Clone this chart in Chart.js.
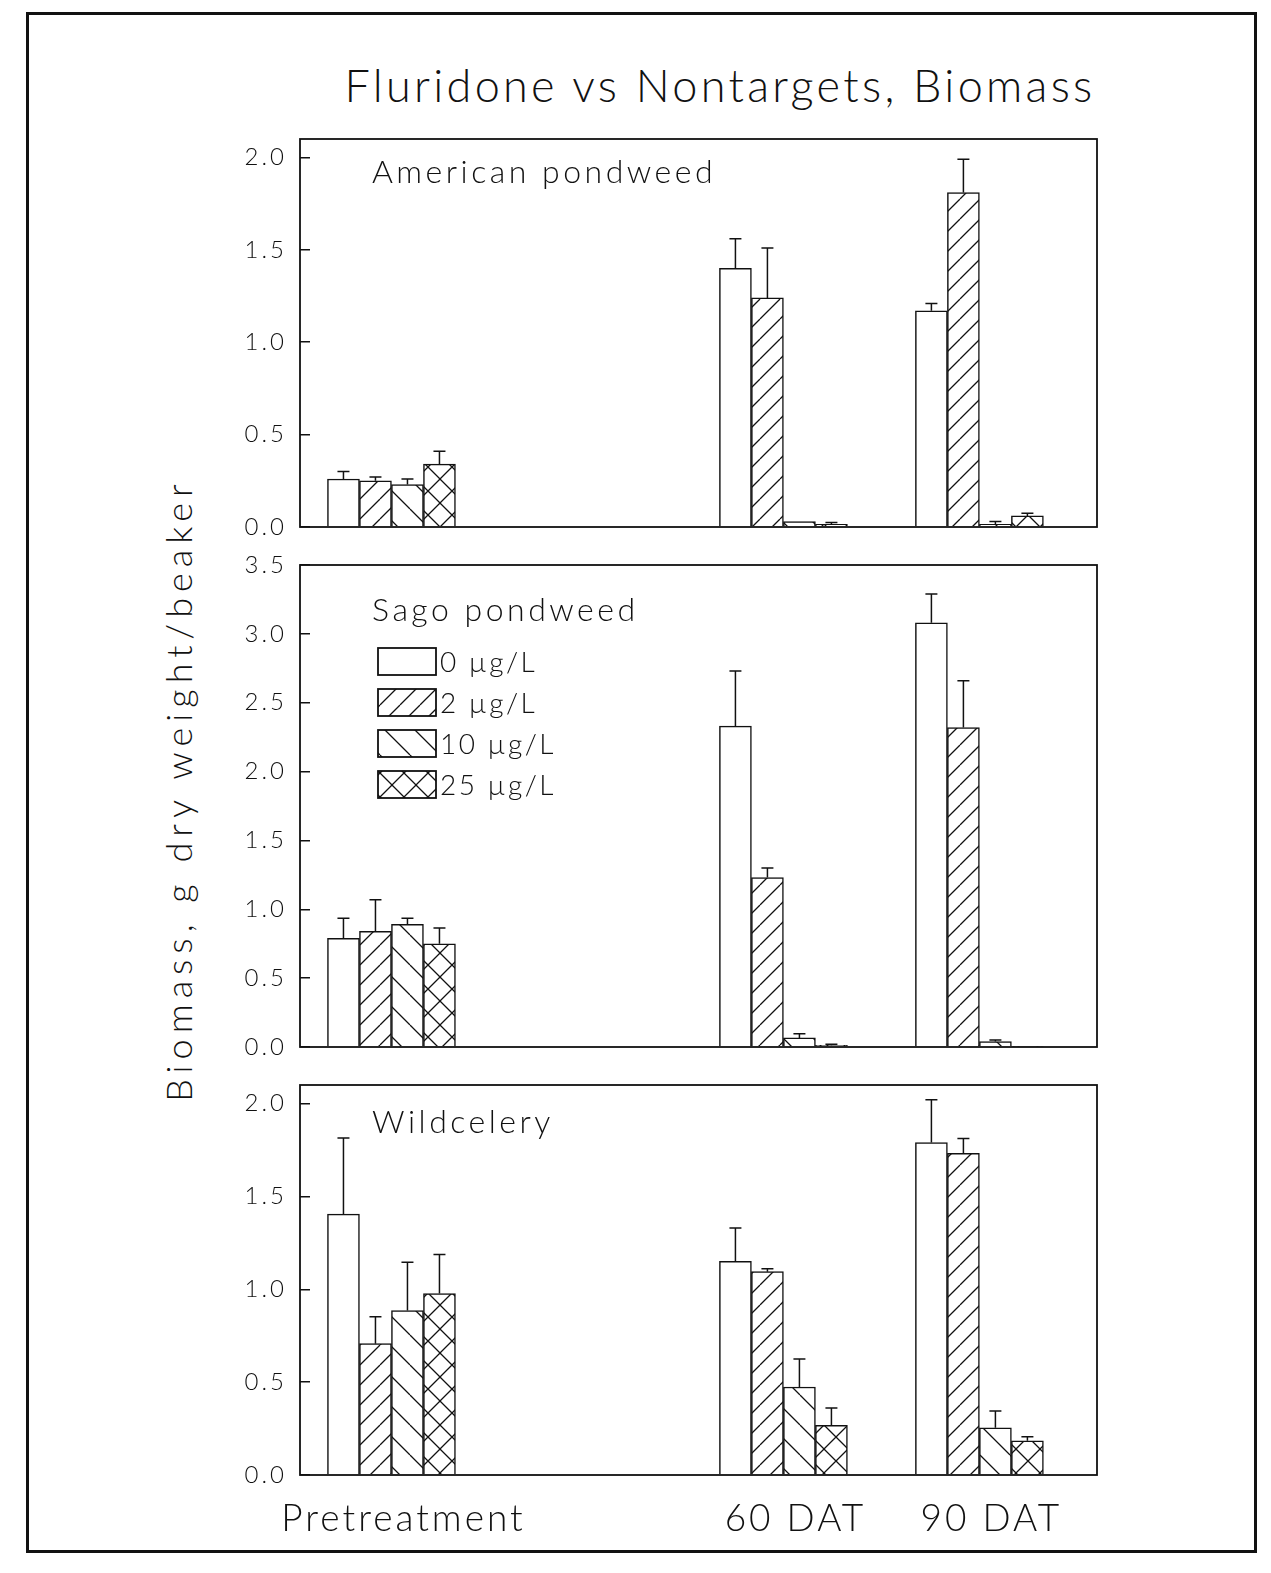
<!DOCTYPE html>
<html>
<head>
<meta charset="utf-8">
<script src="https://cdn.jsdelivr.net/npm/chart.js@4.4.1/dist/chart.umd.min.js"></script>
<style>
  html, body { margin: 0; padding: 0; background: #fff; }
  body { width: 1271px; height: 1573px; position: relative; overflow: hidden;
         font-family: Lato, 'DejaVu Sans', sans-serif; font-weight: 300; color: #111; }
  #frame { position: absolute; left: 26px; top: 12px; width: 1225px; height: 1535px; border: 3px solid #111; }
  #title { position: absolute; left: 320px; width: 800px; top: 58px; text-align: center;
           font-size: 45px; letter-spacing: 3.3px; white-space: nowrap; }
  #ytitle { position: absolute; left: 178px; top: 790px; font-size: 36px; letter-spacing: 6px;
            white-space: nowrap; transform: translate(-50%, -50%) rotate(-90deg); }
  canvas { position: absolute; left: 200px; }
</style>
</head>
<body>
<div id="frame"></div>
<div id="title">Fluridone vs Nontargets, Biomass</div>
<div id="ytitle">Biomass, g dry weight/beaker</div>
<canvas id="american" width="910" height="428" style="top:119px;width:910px;height:428px"></canvas>
<canvas id="sago" width="910" height="522" style="top:545px;width:910px;height:522px"></canvas>
<canvas id="wildcelery" width="910" height="480" style="top:1065px;width:910px;height:480px"></canvas>
<script>
// sampling times (days after treatment) and their labels
const days = [0, 60, 90];
const periodLabels = ['Pretreatment', '60 DAT', '90 DAT'];
const doseLabels = ['0 µg/L', '2 µg/L', '10 µg/L', '25 µg/L'];

// rows = dose (0, 2, 10, 25 ug/L), columns = Pretreatment, 60 DAT, 90 DAT
const americanMean = [
  [0.26, 1.40, 1.17],
  [0.25, 1.24, 1.81],
  [0.23, 0.03, 0.015],
  [0.34, 0.015, 0.06]
];
const americanErr = [
  [0.04, 0.16, 0.04],
  [0.02, 0.27, 0.18],
  [0.03, 0, 0.015],
  [0.07, 0.01, 0.015]
];
const sagoMean = [
  [0.79, 2.33, 3.08],
  [0.84, 1.23, 2.32],
  [0.89, 0.066, 0.04],
  [0.75, 0.012, 0.005]
];
const sagoErr = [
  [0.145, 0.40, 0.21],
  [0.23, 0.07, 0.34],
  [0.045, 0.03, 0.01],
  [0.115, 0.008, 0]
];
const celeryMean = [
  [1.405, 1.15, 1.79],
  [0.707, 1.095, 1.732],
  [0.886, 0.474, 0.254],
  [0.977, 0.268, 0.184]
];
const celeryErr = [
  [0.41, 0.18, 0.23],
  [0.145, 0.016, 0.08],
  [0.26, 0.15, 0.09],
  [0.21, 0.093, 0.022]
];

const ticks21 = [0, 0.5, 1.0, 1.5, 2.0];
const ticks35 = [0, 0.5, 1.0, 1.5, 2.0, 2.5, 3.0, 3.5];

const ink = '#111';
const FONT = 'Lato, "DejaVu Sans", sans-serif';

function hatch(size, dirs) {
  const c = document.createElement('canvas');
  c.width = c.height = size;
  const g = c.getContext('2d');
  g.fillStyle = '#fff';
  g.fillRect(0, 0, size, size);
  g.strokeStyle = ink;
  g.lineWidth = 1.3;
  g.beginPath();
  for (let k = -1; k <= 1; k++) {
    if (dirs.includes('/')) { g.moveTo(k * size, size); g.lineTo(k * size + size, 0); }
    if (dirs.includes('\\')) { g.moveTo(k * size, 0); g.lineTo(k * size + size, size); }
  }
  g.stroke();
  return g.createPattern(c, 'repeat');
}

const fills = ['#fff', hatch(20, '/'), hatch(30, '\\'), hatch(24, '/\\')];

const decor = {
  id: 'decor',
  beforeDraw(chart) { chart.ctx.letterSpacing = '3px'; },
  afterDatasetsDraw(chart, args, opts) {
    const { ctx, chartArea: a, scales: { y } } = chart;
    ctx.save();
    ctx.strokeStyle = ink;
    ctx.lineWidth = 1.5;
    // error bars (upper only)
    chart.data.datasets.forEach((ds, i) => {
      chart.getDatasetMeta(i).data.forEach((bar, j) => {
        const e = ds.errors[j];
        if (!e) return;
        const top = y.getPixelForValue(ds.data[j].y + e);
        ctx.beginPath();
        ctx.moveTo(bar.x, bar.y);
        ctx.lineTo(bar.x, top);
        ctx.moveTo(bar.x - 6, top);
        ctx.lineTo(bar.x + 6, top);
        ctx.stroke();
      });
    });
    // frame
    ctx.lineWidth = 1.8;
    ctx.strokeRect(a.left, a.top, a.right - a.left, a.bottom - a.top);
    // panel name
    ctx.fillStyle = ink;
    ctx.letterSpacing = '3.5px';
    ctx.font = '300 32px ' + FONT;
    ctx.textBaseline = 'alphabetic';
    ctx.fillText(opts.text, a.left + 72, a.top + opts.dy);
    // legend
    if (opts.legend) {
      ctx.letterSpacing = '2.5px';
      ctx.font = '300 28px ' + FONT;
      ctx.textBaseline = 'middle';
      chart.data.datasets.forEach((ds, i) => {
        const bx = a.left + 78, by = a.top + 83 + i * 41;
        ctx.fillStyle = ds.backgroundColor;
        ctx.fillRect(bx, by, 58, 27);
        ctx.strokeRect(bx, by, 58, 27);
        ctx.fillStyle = ink;
        ctx.fillText(ds.label, bx + 62, by + 15);
      });
    }
    ctx.restore();
  }
};

function panel(id, means, errs, yMax, yTicks, label, dy, showX, legend, pad) {
  return new Chart(document.getElementById(id), {
    type: 'bar',
    data: {
      datasets: doseLabels.map((lab, i) => ({
        label: lab,
        data: days.map((d, j) => ({ x: d, y: means[i][j] })),
        errors: errs[i],
        backgroundColor: fills[i],
        borderColor: ink,
        borderWidth: 1.5,
        barThickness: 32
      }))
    },
    options: {
      responsive: false,
      animation: false,
      layout: { padding: pad },
      plugins: {
        legend: { display: false },
        tooltip: { enabled: false },
        decor: { text: label, dy: dy, legend: legend }
      },
      scales: {
        x: {
          type: 'linear',
          offset: false,
          min: -14,
          max: 108,
          display: showX,
          afterBuildTicks: (axis) => { axis.ticks = days.map(v => ({ value: v })); },
          afterFit: (axis) => {
            axis.height = showX ? 70 : 0;
            axis.paddingLeft = 0;
            axis.paddingRight = 0;
          },
          grid: { display: false, offset: false },
          border: { display: false },
          ticks: {
            padding: 14,
            labelOffset: 12,
            color: ink,
            maxRotation: 0,
            autoSkip: false,
            font: { family: FONT, size: 37, weight: 300 },
            callback: (v) => periodLabels[days.indexOf(v)]
          }
        },
        y: {
          min: 0,
          max: yMax,
          afterBuildTicks: (axis) => { axis.ticks = yTicks.map(v => ({ value: v })); },
          afterFit: (axis) => {
            axis.width = 100;
            axis.paddingTop = 0;
            axis.paddingBottom = 0;
          },
          grid: { drawOnChartArea: false, tickLength: -10, color: ink, lineWidth: 1.5 },
          border: { display: false },
          ticks: {
            padding: 23,
            color: ink,
            font: { family: FONT, size: 24, weight: 300 },
            callback: (v) => v.toFixed(1)
          }
        }
      }
    },
    plugins: [decor]
  });
}

panel('american', americanMean, americanErr, 2.1, ticks21, 'American pondweed', 44, false, false,
  { top: 20, bottom: 20, left: 0, right: 13 });
panel('sago', sagoMean, sagoErr, 3.5, ticks35, 'Sago pondweed', 56, false, true,
  { top: 20, bottom: 20, left: 0, right: 13 });
panel('wildcelery', celeryMean, celeryErr, 2.1, ticks21, 'Wildcelery', 48, true, false,
  { top: 20, bottom: 0, left: 0, right: 13 });
</script>
</body>
</html>
